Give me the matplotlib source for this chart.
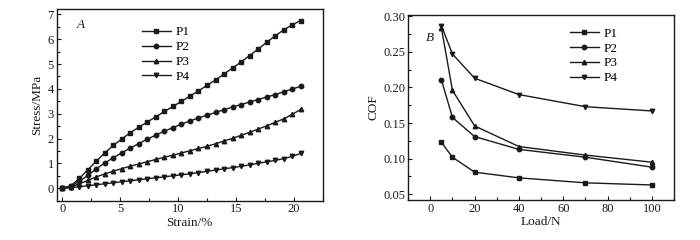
import matplotlib
matplotlib.use("Agg")
import matplotlib.pyplot as plt
from matplotlib.ticker import MultipleLocator

plt.rcParams['font.family'] = ['Liberation Serif', 'DejaVu Serif']
plt.rcParams['font.size'] = 9

# Panel A data
strain = [0, 0.74, 1.47, 2.21, 2.94, 3.68, 4.41, 5.15, 5.88, 6.62, 7.35, 8.09, 8.82, 9.56,
          10.29, 11.03, 11.76, 12.5, 13.24, 13.97, 14.71, 15.44, 16.18, 16.91, 17.65,
          18.38, 19.12, 19.85, 20.59]
stress_p1 = [0, 0.1, 0.4, 0.75, 1.1, 1.43, 1.73, 1.99, 2.24, 2.46, 2.67, 2.88, 3.09, 3.29,
             3.5, 3.71, 3.92, 4.14, 4.36, 4.6, 4.84, 5.08, 5.34, 5.6, 5.87, 6.13, 6.37, 6.57, 6.75]
stress_p2 = [0, 0.08, 0.28, 0.52, 0.79, 1.02, 1.23, 1.43, 1.62, 1.8, 1.98, 2.14, 2.3, 2.44,
             2.58, 2.71, 2.83, 2.94, 3.05, 3.16, 3.27, 3.37, 3.47, 3.57, 3.67, 3.77, 3.88, 3.99, 4.1]
stress_p3 = [0, 0.05, 0.18, 0.32, 0.46, 0.58, 0.69, 0.79, 0.89, 0.98, 1.07, 1.16, 1.25, 1.33,
             1.42, 1.51, 1.6, 1.69, 1.79, 1.9, 2.01, 2.13, 2.25, 2.38, 2.51, 2.65, 2.79, 2.97, 3.17]
stress_p4 = [0, 0.02, 0.06, 0.1, 0.14, 0.18, 0.22, 0.26, 0.3, 0.34, 0.38, 0.42, 0.46, 0.5,
             0.54, 0.58, 0.63, 0.68, 0.73, 0.78, 0.83, 0.88, 0.94, 1.0, 1.06, 1.12, 1.19, 1.28, 1.4]

# Panel B data
load = [5, 10, 20, 40, 70, 100]
cof_p1 = [0.123, 0.102, 0.081, 0.073, 0.066, 0.063]
cof_p2 = [0.211, 0.158, 0.131, 0.113, 0.102, 0.088]
cof_p3 = [0.284, 0.196, 0.146, 0.117, 0.105, 0.095]
cof_p4 = [0.287, 0.247, 0.213, 0.190, 0.173, 0.167]

labels = ['P1', 'P2', 'P3', 'P4']
markers = ['s', 'o', '^', 'v']
col = '#1a1a1a'

fig = plt.figure(figsize=(7, 2.4), dpi=100)
axA = fig.add_axes([0.081, 0.164, 0.380, 0.797])
axB = fig.add_axes([0.583, 0.167, 0.380, 0.771])

for ys, lab, m in zip([stress_p1, stress_p2, stress_p3, stress_p4], labels, markers):
    axA.plot(strain, ys, color=col, lw=1.0, marker=m, ms=3.2, label=lab)
for ys, lab, m in zip([cof_p1, cof_p2, cof_p3, cof_p4], labels, markers):
    axB.plot(load, ys, color=col, lw=1.0, marker=m, ms=3.2, label=lab)

axA.set_xlim(-0.5, 22.5)
axA.set_ylim(-0.5, 7.2)
axA.xaxis.set_major_locator(MultipleLocator(5))
axA.xaxis.set_minor_locator(MultipleLocator(2.5))
axA.yaxis.set_major_locator(MultipleLocator(1))
axA.yaxis.set_minor_locator(MultipleLocator(0.5))
axA.set_xlabel('Strain/%', labelpad=1, fontsize=9.5)
axA.set_ylabel('Stress/MPa', labelpad=3, fontsize=9.5)

axB.set_xlim(-10, 110)
axB.set_ylim(0.042, 0.302)
axB.xaxis.set_major_locator(MultipleLocator(20))
axB.xaxis.set_minor_locator(MultipleLocator(10))
axB.yaxis.set_major_locator(MultipleLocator(0.05))
axB.yaxis.set_minor_locator(MultipleLocator(0.025))
axB.yaxis.set_major_formatter(matplotlib.ticker.FormatStrFormatter('%.2f'))
axB.set_xlabel('Load/N', labelpad=1, fontsize=9.5)
axB.set_ylabel('COF', labelpad=3, fontsize=9.5)

for ax in (axA, axB):
    for s in ax.spines.values():
        s.set_linewidth(1.0)
        s.set_color(col)
    ax.tick_params(which='both', direction='in', top=False, right=False, colors=col, labelcolor=col)
    ax.tick_params(which='major', length=3, width=0.8, pad=2, labelsize=9)
    ax.tick_params(which='minor', length=2, width=0.8)
    ax.xaxis.label.set_color(col)
    ax.yaxis.label.set_color(col)

axA.text(0.075, 0.905, 'A', transform=axA.transAxes, style='italic', fontsize=9.5, color=col)
axB.text(0.065, 0.86, 'B', transform=axB.transAxes, style='italic', fontsize=9.5, color=col)

legA = axA.legend(loc='upper left', bbox_to_anchor=(0.32, 0.912), frameon=False,
                  handlelength=2.2, handletextpad=0.35, labelspacing=0.2, borderpad=0,
                  borderaxespad=0, fontsize=9.5)
legB = axB.legend(loc='upper left', bbox_to_anchor=(0.608, 0.932), frameon=False,
                  handlelength=2.2, handletextpad=0.35, labelspacing=0.2, borderpad=0,
                  borderaxespad=0, fontsize=9.5)

fig.savefig('out.png', dpi=100)
